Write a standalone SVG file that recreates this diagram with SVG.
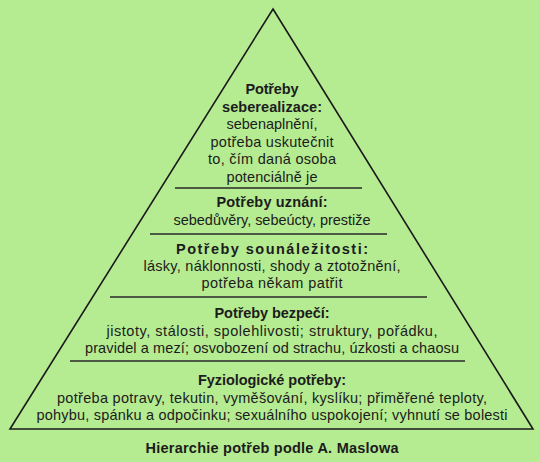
<svg xmlns="http://www.w3.org/2000/svg" width="540" height="462" viewBox="0 0 540 462">
<style>
text{font-family:"Liberation Sans",Arial,sans-serif;font-size:14.5px;fill:#1c1c1c;text-anchor:middle}
.h{font-weight:bold}
.sep{stroke:#2a2a2a;stroke-width:1.6;fill:none}
</style>
<rect width="540" height="462" fill="#b5eb91"/>
<g id="pyramid">
<polygon points="273,9 533,429 10,429" fill="none" stroke="#1a1a1a" stroke-width="1.6" stroke-linejoin="miter"/>
</g>
<g id="separators">
<line class="sep" x1="175" y1="188" x2="362" y2="188"/>
<line class="sep" x1="150" y1="234" x2="387" y2="234"/>
<line class="sep" x1="110" y1="297" x2="427" y2="297"/>
<line class="sep" x1="70" y1="361" x2="465" y2="361"/>
</g>
<g id="level-seberealizace">
<text x="272" y="94" class="h" textLength="53" lengthAdjust="spacing">Potřeby</text>
<text x="272" y="111.5" class="h" textLength="100" lengthAdjust="spacing">seberealizace:</text>
<text x="272" y="129" textLength="91" lengthAdjust="spacing">sebenaplnění,</text>
<text x="272" y="146.5" textLength="123" lengthAdjust="spacing">potřeba uskutečnit</text>
<text x="272" y="164" textLength="128" lengthAdjust="spacing">to, čím daná osoba</text>
<text x="272" y="181.5" textLength="91" lengthAdjust="spacing">potenciálně je</text>
</g>
<g id="level-uznani">
<text x="272" y="207" class="h" textLength="111" lengthAdjust="spacing">Potřeby uznání:</text>
<text x="272" y="225" textLength="197" lengthAdjust="spacing">sebedůvěry, sebeúcty, prestiže</text>
</g>
<g id="level-sounalezitosti">
<text x="272" y="254" class="h" textLength="192" lengthAdjust="spacing">Potřeby sounáležitosti:</text>
<text x="272" y="271" textLength="257" lengthAdjust="spacing">lásky, náklonnosti, shody a ztotožnění,</text>
<text x="272" y="288" textLength="141" lengthAdjust="spacing">potřeba někam patřit</text>
</g>
<g id="level-bezpeci">
<text x="272" y="318" class="h" textLength="115" lengthAdjust="spacing">Potřeby bezpečí:</text>
<text x="272" y="335.5" textLength="331" lengthAdjust="spacing">jistoty, stálosti, spolehlivosti; struktury, pořádku,</text>
<text x="272" y="353" textLength="374" lengthAdjust="spacing">pravidel a mezí; osvobození od strachu, úzkosti a chaosu</text>
</g>
<g id="level-fyziologicke">
<text x="272" y="385" class="h" textLength="148" lengthAdjust="spacing">Fyziologické potřeby:</text>
<text x="272" y="403" textLength="430" lengthAdjust="spacing">potřeba potravy, tekutin, vyměšování, kyslíku; přiměřené teploty,</text>
<text x="272" y="420" textLength="471" lengthAdjust="spacing">pohybu, spánku a odpočinku; sexuálního uspokojení; vyhnutí se bolesti</text>
</g>
<g id="caption">
<text x="272" y="453" class="h" textLength="253" lengthAdjust="spacing">Hierarchie potřeb podle A. Maslowa</text>
</g>
</svg>
